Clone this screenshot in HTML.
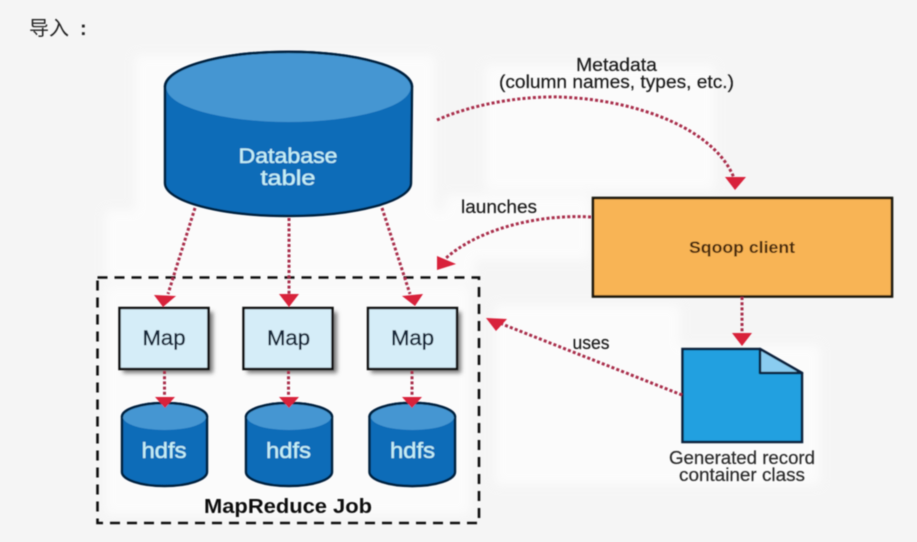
<!DOCTYPE html>
<html>
<head>
<meta charset="utf-8">
<style>
html,body{margin:0;padding:0;background:#f5f5f5;}
svg{display:block;}
text{font-family:"Liberation Sans","Noto Sans CJK SC",sans-serif;}
</style>
</head>
<body>
<svg width="917" height="542" viewBox="0 0 917 542" xmlns="http://www.w3.org/2000/svg">
<defs>
<filter id="b" x="-5%" y="-5%" width="110%" height="110%"><feGaussianBlur stdDeviation="0.65"/></filter>
<filter id="s" x="-20%" y="-20%" width="140%" height="140%"><feGaussianBlur stdDeviation="2"/></filter>
<filter id="w" x="-5%" y="-5%" width="110%" height="110%"><feGaussianBlur stdDeviation="5"/></filter>
</defs>
<rect width="917" height="542" fill="#f5f5f5"/>
<g fill="#ffffff" filter="url(#w)" opacity="0.65">
<rect x="135" y="55" width="300" height="170"/>
<rect x="105" y="210" width="370" height="70"/>
<rect x="485" y="65" width="230" height="125"/>
<rect x="445" y="195" width="145" height="65"/>
<rect x="105" y="285" width="365" height="230"/>
<rect x="495" y="305" width="185" height="180"/>
<rect x="665" y="345" width="155" height="140"/>
</g>
<g filter="url(#b)">
<text x="29" y="35" font-size="20" fill="#222">导入</text>
<text x="80" y="35" font-size="20" fill="#222" font-weight="bold">:</text>

<!-- dashed job box -->
<rect x="97.500" y="277.500" width="381.500" height="245.500" fill="none" stroke="#111" stroke-width="2.600" stroke-dasharray="10 7"/>

<!-- big cylinder -->
<path d="M165 87 A123 35 0 0 1 412 87 L411 183 A123 33 0 0 1 165 183 Z" fill="#0a6cb8" stroke="#06213f" stroke-width="2.500"/>
<ellipse cx="288.500" cy="87.500" rx="122" ry="34.500" fill="#4596d2"/>
<path d="M165 87 A123 35 0 0 1 412 87" fill="none" stroke="#06213f" stroke-width="2.500"/>
<text x="288" y="163" font-size="21" fill="#c5eef5" stroke="#c5eef5" stroke-width="0.300" text-anchor="middle" textLength="99" lengthAdjust="spacingAndGlyphs">Database</text>
<text x="288" y="185" font-size="21" fill="#c5eef5" stroke="#c5eef5" stroke-width="0.300" text-anchor="middle" textLength="55" lengthAdjust="spacingAndGlyphs">table</text>

<!-- Map boxes -->
<g>
<rect x="123" y="312" width="90" height="61" fill="#777" filter="url(#s)"/>
<rect x="247" y="312" width="90" height="61" fill="#777" filter="url(#s)"/>
<rect x="371" y="312" width="90" height="61" fill="#777" filter="url(#s)"/>
<rect x="119.500" y="308" width="89" height="61" fill="#d5edf8" stroke="#111" stroke-width="2.500"/>
<rect x="243.500" y="308" width="89" height="61" fill="#d5edf8" stroke="#111" stroke-width="2.500"/>
<rect x="368" y="308" width="89" height="61" fill="#d5edf8" stroke="#111" stroke-width="2.500"/>
</g>
<g font-size="21" fill="#14283a" stroke="#14283a" stroke-width="0.400" text-anchor="middle">
<text x="164" y="345" textLength="43" lengthAdjust="spacingAndGlyphs">Map</text>
<text x="288.500" y="345" textLength="43" lengthAdjust="spacingAndGlyphs">Map</text>
<text x="412.500" y="345" textLength="43" lengthAdjust="spacingAndGlyphs">Map</text>
</g>

<!-- hdfs cylinders -->
<g>
<path d="M122 417 A42.500 14 0 0 1 207 417 L207 472 A42.500 14 0 0 1 122 472 Z" fill="#0a6cb8" stroke="#06213f" stroke-width="2.500"/>
<ellipse cx="164.500" cy="417" rx="41.500" ry="13" fill="#4596d2"/>
<path d="M122 417 A42.500 14 0 0 1 207 417" fill="none" stroke="#06213f" stroke-width="2.500"/>
</g>
<g>
<path d="M246 417 A43 14 0 0 1 332 417 L332 472 A43 14 0 0 1 246 472 Z" fill="#0a6cb8" stroke="#06213f" stroke-width="2.500"/>
<ellipse cx="289" cy="417" rx="42" ry="13" fill="#4596d2"/>
<path d="M246 417 A43 14 0 0 1 332 417" fill="none" stroke="#06213f" stroke-width="2.500"/>
</g>
<g>
<path d="M369.500 417 A42.500 14 0 0 1 455 417 L455 472 A42.500 14 0 0 1 369.500 472 Z" fill="#0a6cb8" stroke="#06213f" stroke-width="2.500"/>
<ellipse cx="412.500" cy="417" rx="41.500" ry="13" fill="#4596d2"/>
<path d="M369.500 417 A42.500 14 0 0 1 455 417" fill="none" stroke="#06213f" stroke-width="2.500"/>
</g>
<g font-size="22" fill="#c5eef5" stroke="#c5eef5" stroke-width="0.300" text-anchor="middle">
<text x="164" y="458" textLength="45" lengthAdjust="spacingAndGlyphs">hdfs</text>
<text x="288.500" y="458" textLength="45" lengthAdjust="spacingAndGlyphs">hdfs</text>
<text x="412.500" y="458" textLength="45" lengthAdjust="spacingAndGlyphs">hdfs</text>
</g>
<text x="288" y="513" font-size="20" font-weight="bold" fill="#111" text-anchor="middle" textLength="168" lengthAdjust="spacingAndGlyphs">MapReduce Job</text>

<!-- Sqoop -->
<rect x="593" y="198" width="299" height="98.500" fill="#f8b454" stroke="#1a1208" stroke-width="2.600"/>
<text x="742" y="253" font-size="17" font-weight="bold" fill="#4a2c10" text-anchor="middle" textLength="106" lengthAdjust="spacingAndGlyphs">Sqoop client</text>

<!-- Document -->
<path d="M682.500 349 L760 349 L802 373 L802 442 L682.500 442 Z" fill="#23a0e0" stroke="#08223c" stroke-width="2.500"/>
<path d="M760 349 L760 373 L802 373 Z" fill="#8accf0" stroke="#08223c" stroke-width="2.500" stroke-linejoin="round"/>
<g font-size="18" fill="#2c2c2c" stroke="#2c2c2c" stroke-width="0.200" text-anchor="middle">
<text x="742" y="464" textLength="146" lengthAdjust="spacingAndGlyphs">Generated record</text>
<text x="742" y="481" textLength="126" lengthAdjust="spacingAndGlyphs">container class</text>
</g>

<!-- Labels -->
<g font-size="18" fill="#1c1c1c" stroke="#1c1c1c" stroke-width="0.200" text-anchor="middle">
<text x="616.500" y="71" textLength="81" lengthAdjust="spacingAndGlyphs">Metadata</text>
<text x="616.500" y="88" textLength="235" lengthAdjust="spacingAndGlyphs">(column names, types, etc.)</text>
<text x="499" y="213" textLength="76" lengthAdjust="spacingAndGlyphs">launches</text>
<text x="591" y="349" textLength="37" lengthAdjust="spacingAndGlyphs">uses</text>
</g>

<!-- Connectors -->
<g fill="none" stroke="#a92f4b" stroke-width="3" stroke-dasharray="3 2.200">
<path d="M437 120 C475 103 525 96 560 97 C640 100 715 130 734 178"/>
<path d="M591 217 C540 214 480 228 446 258"/>
<path d="M195 208 L168 294"/>
<path d="M289 218 L289 295"/>
<path d="M382 208 L410 294"/>
<path d="M164.500 371 L164.500 398"/>
<path d="M288.500 371 L288.500 398"/>
<path d="M412 371 L412 398"/>
<path d="M742 297 L742 334"/>
<path d="M682 395 L502 324"/>
</g>
<g fill="#d8203a">
<polygon points="725,177 746,177 735,190"/>
<polygon points="437,256 456,264 437,270"/>
<polygon points="154,295 176,296 163,307"/>
<polygon points="279,294 299,294 289,307"/>
<polygon points="402,296 423,294 415,306"/>
<polygon points="155,397 175,397 165,408"/>
<polygon points="279,397 299,397 289,408"/>
<polygon points="402,397 422,397 412,408"/>
<polygon points="732,333 752,333 742,346"/>
<polygon points="486,318 507,319 496,331"/>
</g>
</g>
</svg>
</body>
</html>
